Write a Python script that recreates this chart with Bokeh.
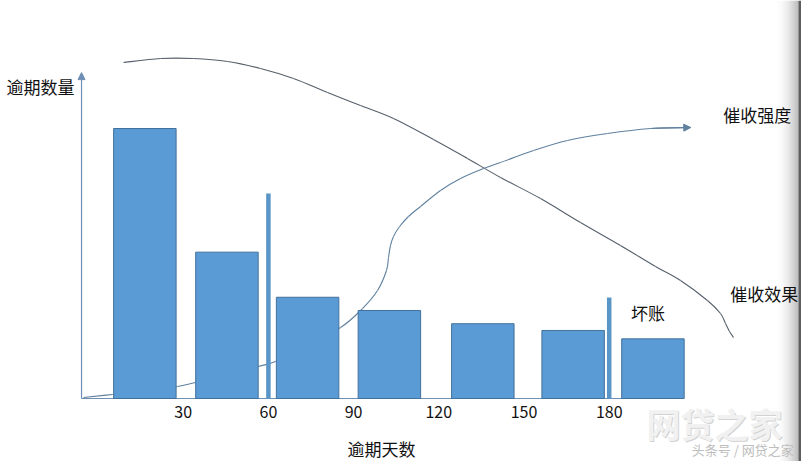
import numpy as np
from bokeh.plotting import figure
from bokeh.models import Range1d, Arrow, NormalHead, ColumnDataSource
from bokeh.core.properties import value
from bokeh.embed import file_html
from bokeh.resources import INLINE

# ---------------- data ----------------
bucket_labels = ["0-30", "30-60", "60-90", "90-120", "120-150", "150-180", "180+"]
bucket_days = [16.5, 45.4, 73.8, 102.6, 135.5, 167.3, 195.4]      # bar centres (days)
overdue_counts = [100, 54.2, 37.5, 32.6, 27.7, 25.2, 22.1]          # 逾期数量

tick_days = [30, 60, 90, 120, 150, 180]
tick_labels = ["30", "60", "90", "120", "150", "180"]

marker_days = [60, 180]          # thin vertical markers (60 days, 坏账 at 180)
marker_heights = [75.9, 37.4]

# 催收效果 (collection effect) curve
effect_days = [8.98, 22.01, 33.63, 45.6, 57.22, 68.84, 80.81, 92.43, 104.05, 118.13,
               130.11, 141.73, 155.81, 169.89, 183.98, 196.3, 205.11, 214.61, 219.19,
               220.95, 222.36, 223.77]
effect_vals = [124.44, 125.93, 125.93, 124.81, 122.22, 118.52, 113.33, 108.52, 103.7, 95.93,
               88.89, 81.85, 74.07, 65.19, 56.67, 48.89, 43.7, 36.3, 31.48, 27.78, 24.81, 22.59]

# 催收强度 (collection intensity) curve
intensity_days = [-5.11, 5.11, 18.49, 27.99, 34.33, 46.65, 56.51, 62.5, 71.3, 85.39, 93.13,
                  98.42, 101.58, 102.29, 102.99, 104.05, 106.2, 109.33, 113.56, 120.6, 127.64,
                  135.74, 141.73, 153.35, 165.32, 179.4, 194.54, 207.92]
intensity_vals = [0.37, 1.48, 2.96, 4.44, 5.93, 8.89, 11.85, 13.7, 18.52, 26.3, 33.33, 40.0,
                  47.41, 52.22, 56.67, 60.0, 63.7, 67.41, 71.11, 77.04, 81.48, 85.19, 87.41,
                  91.85, 95.56, 98.15, 100.0, 100.37]

axis_origin_day = -5.8
y_axis_top = 120.7

# ---------------- figure ----------------
W, H = 801, 461
X0, X1 = -34.33, 247.71
Y0, Y1 = -23.33, 147.41
p = figure(width=W, height=H, x_range=Range1d(X0, X1), y_range=Range1d(Y0, Y1),
           output_backend="svg", toolbar_location=None,
           x_axis_type=None, y_axis_type=None, min_border=0,
           outline_line_color=None, background_fill_color="white",
           border_fill_color="white")

CJK = value("Noto Sans CJK SC")
axis_col = "#6d8fb3"
bar_fill = "#5b9bd5"
bar_line = "#41719c"

# scanned right edge shading (decoration, drawn first so texts sit on top)
px2d = lambda px: X0 + px * (X1 - X0) / W
edges = np.arange(774, 798)
t = (edges - 774) / 23.0
greys = [int(255 - 85 * tt ** 2) for tt in t]
cols = ["#%02x%02x%02x" % (g, g, g) for g in greys]
p.quad(left=[px2d(e) for e in edges], right=[px2d(e + 1.05) for e in edges],
       bottom=Y0, top=Y1, fill_color=cols, line_color=None)
p.quad(left=[px2d(798)], right=[X1], bottom=Y0, top=Y1, fill_color="#5e5e5e", line_color=None)


def smooth_curve(xs, ys, color, width):
    """draw a smooth curve through the read points (Catmull-Rom as cubic Beziers)"""
    xs = np.asarray(xs, float)
    ys = np.asarray(ys, float)
    n = len(xs)
    i0 = np.arange(n - 1)
    im = np.maximum(i0 - 1, 0)
    ip = i0 + 1
    ip2 = np.minimum(i0 + 2, n - 1)
    cx0 = xs[i0] + (xs[ip] - xs[im]) / 6.0
    cy0 = ys[i0] + (ys[ip] - ys[im]) / 6.0
    cx1 = xs[ip] - (xs[ip2] - xs[i0]) / 6.0
    cy1 = ys[ip] - (ys[ip2] - ys[i0]) / 6.0
    p.bezier(x0=xs[i0], y0=ys[i0], x1=xs[ip], y1=ys[ip],
             cx0=cx0, cy0=cy0, cx1=cx1, cy1=cy1, line_color=color, line_width=width)


# curves (behind bars)
smooth_curve(effect_days, effect_vals, "#56606b", 1.1)
smooth_curve(intensity_days, intensity_vals, "#60819f", 1.1)
p.add_layout(Arrow(end=NormalHead(size=7, fill_color="#60819f", line_color="#60819f"),
                   x_start=intensity_days[-2], y_start=intensity_vals[-2],
                   x_end=intensity_days[-1] + 0.8, y_end=intensity_vals[-1],
                   line_color="#60819f", line_width=1.1))

# x axis line
p.segment(x0=[axis_origin_day], y0=[0], x1=[bucket_days[-1] + 11], y1=[0],
          line_color=axis_col, line_width=1.2)

# bars
src = ColumnDataSource(dict(x=bucket_days, top=overdue_counts, label=bucket_labels))
p.vbar(x="x", top="top", bottom=0, width=22, source=src,
       fill_color=bar_fill, line_color=bar_line, line_width=1)

# thin markers
p.segment(x0=marker_days, y0=[0, 0], x1=marker_days, y1=marker_heights,
          line_color="#5a95c8", line_width=4.5)

# y axis arrow
p.add_layout(Arrow(end=NormalHead(size=7, fill_color=axis_col, line_color=axis_col),
                   x_start=axis_origin_day, y_start=0, x_end=axis_origin_day, y_end=y_axis_top,
                   line_color=axis_col, line_width=1.2))

# tick labels
p.text(x=tick_days, y=[-5.0] * len(tick_days), text=tick_labels, text_font=CJK,
       text_font_size="16px", text_align="center", text_baseline="middle", text_color="#111111")


def label(x, y, t, size="17px", color="#111111", style="normal"):
    p.text(x=[x], y=[y], text=[t], text_font=CJK, text_font_size=size,
           text_align="center", text_baseline="middle", text_color=color, text_font_style=style)


label(-20.25, 115.74, "逾期数量")
label(232.11, 105.19, "催收强度")
label(234.61, 38.78, "催收效果")
label(193.66, 31.67, "坏账")
label(99.82, -18.52, "逾期天数")

# watermark
label(217.4, -9.6, "网贷之家", size="34px", color="#d2d2d2", style="bold")
label(217.1, -9.3, "网贷之家", size="34px", color="#f1f1f1", style="bold")
label(227.0, -18.9, "头条号 / 网贷之家", size="13px", color="#bdbdbd")

open("out.html", "w").write(file_html(p, INLINE))
